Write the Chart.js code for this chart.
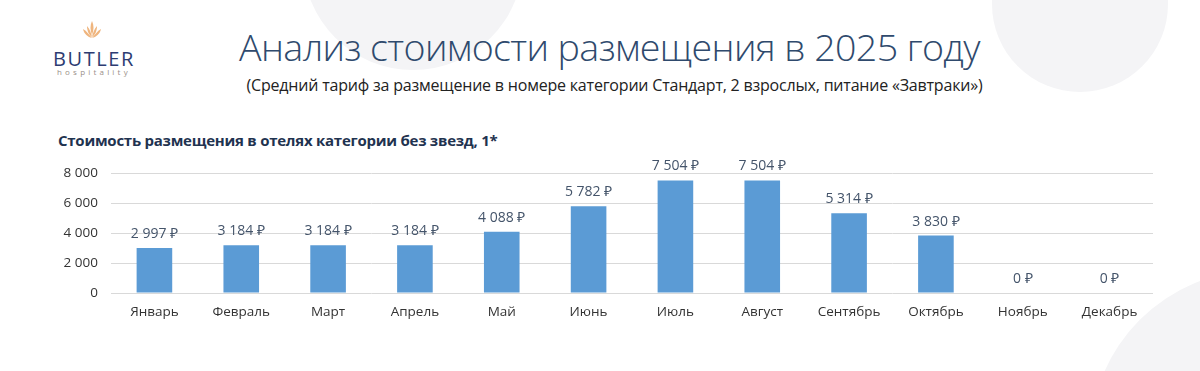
<!DOCTYPE html>
<html>
<head>
<meta charset="utf-8">
<script src="https://cdn.jsdelivr.net/npm/chart.js@4"></script>
<style>
  html, body { margin:0; padding:0; background:#fff; }
  body { width:1200px; height:371px; position:relative; overflow:hidden; font-family: "Open Sans", sans-serif; }
  .circle { position:absolute; border-radius:50%; background:#f4f4f6; }
  #title { position:absolute; left:0; width:1219px; top:21px; text-align:center; font-family:"Open Sans", sans-serif; font-weight:300; font-size:37.6px; color:#2f4a6d; white-space:nowrap; letter-spacing:-0.6px; }
  #subtitle { position:absolute; left:0; width:1229px; top:74px; text-align:center; font-family:"Open Sans", sans-serif; font-size:16px; color:#222; white-space:nowrap; letter-spacing:-0.2px; }
  #ctitle { position:absolute; left:58px; top:130px; font-family:"Open Sans", sans-serif; font-weight:700; font-size:15px; color:#1f3350; white-space:nowrap; letter-spacing:-0.25px; }
  #logo1 { position:absolute; left:53px; top:45px; font-family:"Open Sans", sans-serif; font-size:20px; color:#2d3c72; letter-spacing:1.6px; }
  #logo2 { position:absolute; left:57px; top:66px; font-family:"Open Sans", sans-serif; font-size:8px; color:#9a8f88; letter-spacing:3.2px; }
  #flame { position:absolute; left:82px; top:21px; }
  #wrap { position:absolute; left:0; top:150px; width:1160px; height:180px; }
</style>
</head>
<body>
<div class="circle" style="left:303px; top:-150px; width:220px; height:220px;"></div>
<div class="circle" style="left:992px; top:-84px; width:176px; height:176px;"></div>
<div class="circle" style="left:1090px; top:270px; width:340px; height:340px;"></div>

<svg id="flame" width="20" height="20" viewBox="0 0 20 20">
  <g fill="#efb57e">
    <path d="M10 0 C8 4 8 9 10 14 C12 9 12 4 10 0 Z"/>
    <path d="M5 5 C5 10 7 14 10 16 C9 12 8 8 5 5 Z"/>
    <path d="M15 5 C15 10 13 14 10 16 C11 12 12 8 15 5 Z"/>
    <path d="M1 8 C2 13 6 16 10 17 C7 14 5 10 1 8 Z"/>
    <path d="M19 8 C18 13 14 16 10 17 C13 14 15 10 19 8 Z"/>
  </g>
</svg>
<div id="logo1">BUTLER</div>
<div id="logo2">hospitality</div>

<div id="title">Анализ стоимости размещения в 2025 году</div>
<div id="subtitle">(Средний тариф за размещение в номере категории Стандарт, 2 взрослых, питание «Завтраки»)</div>
<div id="ctitle">Стоимость размещения в отелях категории без звезд, 1*</div>

<div id="wrap"><canvas id="c" width="1160" height="180"></canvas></div>

<script>
const categories = ["Январь","Февраль","Март","Апрель","Май","Июнь","Июль","Август","Сентябрь","Октябрь","Ноябрь","Декабрь"];
const prices = [2997, 3184, 3184, 3184, 4088, 5782, 7504, 7504, 5314, 3830, 0, 0];
const yTicks = [0, 2000, 4000, 6000, 8000];

function fmt(v) { return String(v).replace(/\B(?=(\d{3})+(?!\d))/g, " "); }

const labelPlugin = {
  id: 'barLabels',
  afterDatasetsDraw(chart) {
    const ctx = chart.ctx;
    const meta = chart.getDatasetMeta(0);
    ctx.save();
    ctx.font = '14px "Open Sans", sans-serif';
    ctx.fillStyle = '#44546a';
    ctx.textAlign = 'center';
    ctx.textBaseline = 'middle';
    meta.data.forEach((bar, i) => {
      ctx.fillText(fmt(prices[i]) + " ₽", bar.x, bar.y - 14);
    });
    ctx.restore();
  }
};

new Chart(document.getElementById('c'), {
  type: 'bar',
  data: {
    labels: categories,
    datasets: [{ data: prices, backgroundColor: '#5b9bd5', borderWidth: 0, barPercentage: 0.41, categoryPercentage: 1 }]
  },
  options: {
    responsive: false,
    animation: false,
    layout: { padding: { top: 23, right: 7, left: 0, bottom: 0 } },
    plugins: { legend: { display: false }, tooltip: { enabled: false } },
    scales: {
      x: {
        grid: { display: false, drawTicks: false },
        border: { display: false },
        ticks: { font: { family: '"Open Sans", sans-serif', size: 13.5 }, color: '#333', padding: 11, maxRotation: 0 },
        afterFit(s) { s.height = 37; }
      },
      y: {
        min: 0, max: 8000,
        afterBuildTicks(s) { s.ticks = yTicks.map(v => ({ value: v })); },
        grid: { color: '#d9d9d9', drawTicks: false, lineWidth: 1 },
        border: { display: false },
        ticks: { font: { family: '"Open Sans", sans-serif', size: 13.5 }, color: '#333', padding: 13, callback: v => fmt(v) },
        afterFit(s) { s.width = 111; }
      }
    }
  },
  plugins: [labelPlugin]
});
</script>
</body>
</html>
